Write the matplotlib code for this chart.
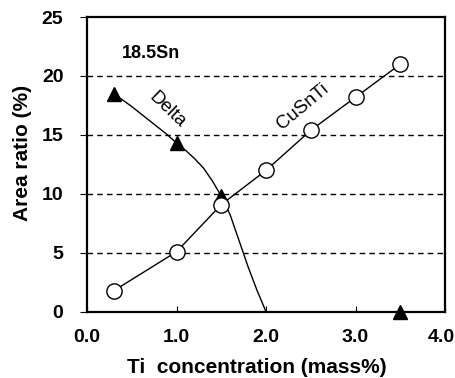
import matplotlib.pyplot as plt
from matplotlib.transforms import ScaledTranslation

plt.rcParams["font.family"] = ["Liberation Sans", "DejaVu Sans"]

# CuSnTi area ratio (open circles)
ti_cusnti = [0.3, 1.0, 1.5, 2.0, 2.5, 3.0, 3.5]
area_cusnti = [1.8, 5.1, 9.1, 12.0, 15.4, 18.2, 21.0]

# Delta area ratio (filled triangles)
ti_delta = [0.3, 1.0, 1.5, 3.5]
area_delta = [18.5, 14.3, 9.8, 0.0]

# Delta trend curve
curve_x = [0.3, 0.5, 0.7, 0.9, 1.0, 1.1, 1.2, 1.3, 1.4, 1.5, 1.6, 1.7,
           1.8, 1.9, 2.0]
curve_y = [18.5, 17.4, 16.2, 15.0, 14.3, 13.7, 13.0, 12.2, 11.1, 9.8, 8.2,
           6.0, 3.8, 1.8, 0.0]

x_ticks = [0.0, 1.0, 2.0, 3.0, 4.0]
y_ticks = [0, 5, 10, 15, 20, 25]

fig = plt.figure(figsize=(4.56, 3.78), dpi=100)
ax = fig.add_axes([0.191, 0.175, 0.785, 0.78])

# Dashed horizontal grid lines
for y in y_ticks[1:-1]:
    ax.axhline(y, color="black", linestyle=(0, (4, 3)), linewidth=1.0, zorder=1)

ax.plot(curve_x, curve_y, color="black", linewidth=1.0, zorder=2)
ax.plot(ti_delta, area_delta, linestyle="none", marker="^", color="black",
        markersize=10, zorder=3, clip_on=False)
ax.plot(ti_cusnti, area_cusnti, color="black", linewidth=1.0, marker="o",
        markersize=11, markerfacecolor="white", markeredgecolor="black",
        markeredgewidth=1.0, zorder=4)

ax.set_xlim(0, 4)
ax.set_ylim(0, 25)
ax.set_xticks(x_ticks)
ax.set_xticklabels([f"{v:.1f}" for v in x_ticks])
ax.set_yticks(y_ticks)
ax.tick_params(axis="x", direction="in", length=4, width=0.8, pad=12,
               labelsize=14)
ax.tick_params(axis="y", direction="out", length=5, width=0.8, pad=12,
               labelsize=14)
for lab in ax.get_xticklabels() + ax.get_yticklabels():
    lab.set_fontweight("bold")

# nudge the last x label a little so it stays inside the figure
last = ax.get_xticklabels()[-1]
last.set_transform(last.get_transform()
                   + ScaledTranslation(-4 / 100, 0, fig.dpi_scale_trans))

for side in ["left", "bottom", "right", "top"]:
    ax.spines[side].set_linewidth(1.6)

ax.set_xlabel("Ti  concentration (mass%)", fontsize=15, fontweight="bold")
ax.set_ylabel("Area ratio (%)", fontsize=15, fontweight="bold")
ax.xaxis.set_label_coords(0.475, -0.155)
ax.yaxis.set_label_coords(-0.154, 0.54)

# Annotations inside the plot
ax.text(0.39, 21.9, "18.5Sn", fontsize=13, fontweight="bold",
        ha="left", va="center")
ax.text(0.9, 17.1, "Delta", fontsize=13.5, rotation=-44,
        ha="center", va="center")
ax.text(2.41, 17.4, "CuSnTi", fontsize=13.5, rotation=40,
        ha="center", va="center")

fig.savefig("out.png", dpi=100)
